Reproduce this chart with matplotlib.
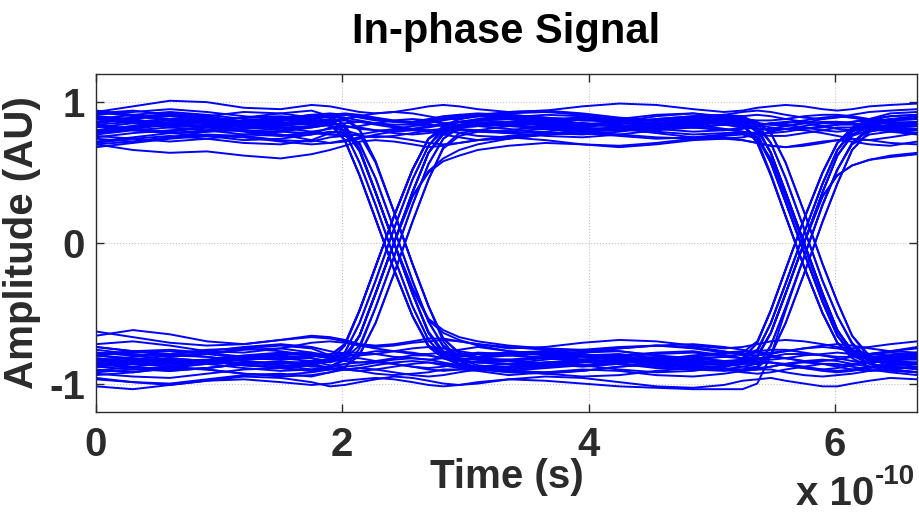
import matplotlib
matplotlib.use("Agg")
import matplotlib.pyplot as plt
import numpy as np

plt.rcParams['font.family'] = ['Liberation Sans', 'DejaVu Sans']
plt.rcParams['font.weight'] = 'bold'
plt.rcParams['axes.unicode_minus'] = False

# sample instants, in units of 1e-10 s (denser around the two crossings)
t_grid = [0.0, 0.3, 0.6, 0.9, 1.2, 1.5, 1.75,
          1.9, 2.02, 2.14, 2.27, 2.42, 2.57, 2.7, 2.82, 2.95, 3.1,
          3.35, 3.65, 3.95, 4.25, 4.55, 4.85, 5.1,
          5.25, 5.37, 5.48, 5.6, 5.75, 5.9, 6.02, 6.14, 6.28, 6.45,
          6.67]

# amplitude traces in hundredths, grouped by symbol pattern
hhh = [
    [86, 89, 92, 90, 86, 85, 88, 90, 91, 90, 88, 86, 85, 86, 88, 90, 91, 89, 86, 84, 86, 90, 92, 89, 87, 85, 84, 85, 87, 89, 90, 89, 87, 85, 86],
    [74, 72, 75, 79, 80, 77, 73, 71, 72, 74, 77, 79, 80, 79, 77, 75, 73, 74, 77, 80, 81, 78, 75, 74, 75, 77, 79, 81, 80, 78, 76, 74, 73, 75, 78],
    [93, 97, 101, 100, 96, 95, 98, 97, 95, 93, 92, 93, 95, 97, 98, 97, 95, 93, 94, 97, 99, 98, 95, 93, 94, 96, 97, 98, 97, 95, 94, 95, 97, 98, 99],
    [70, 66, 64, 65, 62, 60, 63, 66, 69, 72, 73, 72, 70, 68, 69, 71, 73, 75, 73, 70, 69, 71, 74, 75, 73, 71, 69, 68, 70, 72, 73, 72, 70, 69, 72],
    [80, 83, 85, 83, 80, 79, 82, 84, 85, 86, 85, 83, 81, 80, 81, 83, 85, 86, 84, 81, 80, 83, 86, 85, 83, 81, 80, 81, 83, 85, 86, 85, 83, 82, 84],
    [88, 86, 83, 82, 84, 87, 89, 90, 89, 87, 85, 84, 84, 85, 87, 89, 90, 90, 88, 85, 83, 84, 87, 89, 90, 91, 90, 88, 86, 85, 85, 86, 88, 90, 91],
    [78, 81, 84, 86, 85, 82, 79, 77, 76, 77, 79, 81, 83, 84, 83, 81, 79, 78, 79, 82, 85, 86, 84, 81, 79, 78, 78, 79, 81, 83, 84, 84, 82, 80, 78],
    [83, 80, 78, 79, 82, 85, 86, 85, 83, 81, 80, 80, 81, 83, 85, 86, 86, 84, 81, 79, 80, 83, 86, 87, 86, 84, 82, 81, 81, 82, 84, 86, 87, 86, 84],
]
hhl = [
    [84, 81, 79, 82, 86, 88, 85, 83, 82, 83, 85, 87, 88, 87, 85, 83, 83, 85, 87, 88, 86, 83, 82, 84, 86, 81, 64, 36, 0, -36, -62, -77, -83, -85, -86],
    [90, 88, 84, 82, 84, 88, 91, 92, 91, 89, 87, 86, 86, 88, 90, 91, 90, 88, 85, 83, 85, 88, 90, 88, 85, 73, 49, 19, -17, -50, -71, -80, -82, -80, -78],
    [77, 80, 82, 80, 77, 76, 79, 81, 83, 82, 80, 78, 77, 78, 80, 82, 83, 81, 78, 77, 79, 82, 85, 87, 88, 85, 78, 57, 22, -15, -42, -66, -82, -88, -90],
    [94, 91, 88, 90, 93, 92, 89, 87, 88, 90, 92, 93, 92, 90, 88, 88, 90, 92, 93, 91, 88, 87, 89, 91, 90, 85, 71, 46, 10, -27, -52, -71, -83, -86, -88],
    [72, 75, 78, 76, 73, 74, 77, 79, 78, 76, 75, 76, 78, 80, 80, 78, 76, 75, 77, 80, 81, 79, 77, 78, 79, 75, 57, 29, -7, -42, -66, -79, -83, -81, -79],
    [82, 85, 87, 86, 83, 81, 83, 86, 87, 86, 84, 82, 81, 82, 84, 86, 87, 86, 83, 81, 82, 85, 87, 86, 84, 80, 64, 36, 0, -36, -62, -78, -86, -90, -92],
    [68, 71, 74, 76, 75, 72, 70, 71, 73, 75, 76, 75, 73, 71, 70, 71, 73, 76, 78, 79, 77, 75, 74, 76, 77, 74, 60, 33, -2, -38, -63, -77, -82, -83, -81],
    [88, 91, 93, 91, 88, 87, 89, 91, 92, 91, 89, 87, 86, 87, 89, 91, 92, 91, 89, 87, 86, 88, 90, 91, 89, 82, 64, 35, -1, -37, -63, -76, -79, -77, -74],
]
hlh = [
    [88, 85, 82, 84, 87, 89, 87, 87, 82, 66, 36, 0, -36, -64, -78, -83, -85, -86, -83, -80, -79, -82, -85, -86, -85, -81, -64, -36, 0, 36, 62, 77, 83, 86, 85],
    [80, 83, 86, 85, 82, 80, 82, 84, 73, 48, 17, -19, -52, -74, -82, -86, -88, -88, -86, -83, -81, -83, -86, -87, -83, -71, -48, -19, 17, 50, 71, 80, 82, 81, 80],
    [92, 94, 91, 87, 86, 88, 91, 90, 89, 81, 58, 22, -15, -45, -68, -78, -81, -79, -77, -79, -83, -85, -84, -85, -86, -86, -79, -57, -22, 15, 42, 66, 79, 82, 83],
    [75, 78, 80, 82, 79, 76, 77, 82, 80, 65, 36, 0, -36, -63, -77, -80, -81, -78, -77, -80, -84, -86, -85, -84, -83, -80, -64, -36, 0, 33, 48, 55, 59, 62, 64],
    [85, 88, 91, 89, 85, 83, 85, 86, 82, 66, 36, 0, -33, -55, -64, -69, -73, -77, -79, -81, -80, -78, -77, -80, -82, -77, -57, -29, 7, 42, 66, 79, 84, 87, 89],
    [90, 87, 84, 83, 86, 89, 90, 89, 79, 57, 27, -10, -45, -69, -81, -87, -90, -92, -93, -91, -88, -86, -87, -89, -90, -88, -73, -46, -10, 27, 52, 71, 82, 87, 88],
    [70, 72, 75, 77, 76, 73, 72, 75, 76, 70, 46, 10, -27, -56, -73, -80, -82, -84, -86, -85, -83, -81, -82, -84, -85, -81, -64, -36, 0, 36, 62, 76, 80, 80, 78],
    [84, 86, 88, 87, 84, 82, 83, 85, 73, 48, 17, -19, -52, -73, -79, -80, -79, -78, -80, -83, -85, -84, -81, -79, -78, -70, -48, -19, 17, 50, 71, 82, 88, 92, 93],
]
hll = [
    [83, 80, 78, 80, 84, 86, 84, 86, 82, 66, 36, 0, -36, -64, -79, -86, -89, -90, -88, -85, -84, -86, -89, -90, -88, -86, -85, -86, -88, -90, -91, -90, -88, -86, -85],
    [89, 86, 84, 86, 89, 90, 88, 85, 73, 48, 17, -19, -52, -73, -80, -80, -78, -79, -82, -84, -85, -83, -80, -78, -77, -78, -80, -82, -84, -84, -83, -81, -79, -78, -80],
    [71, 74, 76, 74, 71, 70, 73, 78, 80, 77, 57, 22, -15, -45, -70, -84, -89, -91, -92, -91, -88, -86, -87, -90, -92, -93, -92, -90, -88, -86, -86, -88, -90, -92, -94],
    [93, 90, 87, 86, 89, 92, 94, 90, 84, 67, 36, 0, -36, -64, -78, -82, -83, -84, -81, -78, -77, -80, -84, -86, -85, -83, -81, -79, -79, -80, -82, -84, -85, -84, -82],
    [79, 82, 84, 83, 81, 83, 86, 86, 82, 66, 36, 0, -32, -54, -62, -67, -70, -73, -75, -76, -74, -73, -75, -78, -79, -80, -79, -77, -75, -74, -75, -77, -79, -80, -79],
    [86, 89, 90, 88, 85, 84, 86, 88, 79, 57, 27, -10, -45, -69, -80, -84, -85, -86, -88, -87, -84, -82, -83, -86, -88, -89, -88, -86, -84, -83, -84, -86, -88, -89, -88],
    [76, 74, 72, 74, 77, 79, 78, 77, 77, 71, 46, 10, -27, -56, -74, -83, -87, -89, -87, -84, -83, -85, -88, -90, -91, -90, -88, -86, -85, -86, -88, -90, -91, -90, -88],
    [91, 93, 95, 93, 90, 88, 89, 90, 88, 80, 58, 22, -15, -45, -68, -79, -82, -83, -81, -80, -82, -85, -87, -86, -84, -82, -81, -82, -84, -86, -87, -86, -84, -82, -81],
]
lhh = [
    [-82, -85, -87, -85, -82, -80, -82, -85, -82, -66, -36, 0, 36, 64, 78, 84, 87, 89, 87, 84, 83, 85, 88, 89, 87, 85, 84, 83, 85, 88, 90, 89, 87, 85, 86],
    [-88, -86, -83, -84, -87, -89, -87, -84, -73, -48, -17, 19, 52, 74, 80, 81, 80, 79, 81, 84, 86, 84, 82, 80, 81, 83, 85, 86, 85, 83, 81, 80, 81, 83, 84],
    [-76, -79, -81, -79, -76, -75, -78, -82, -84, -79, -57, -22, 15, 45, 67, 76, 79, 80, 83, 85, 84, 81, 79, 80, 82, 84, 85, 84, 82, 80, 79, 80, 82, 84, 86],
    [-90, -92, -89, -86, -85, -87, -90, -88, -82, -66, -36, 0, 33, 50, 58, 62, 66, 69, 71, 70, 68, 70, 73, 74, 73, 71, 69, 68, 69, 71, 73, 74, 73, 71, 70],
    [-84, -81, -79, -81, -84, -86, -84, -83, -78, -57, -27, 10, 45, 69, 82, 88, 91, 93, 94, 92, 89, 87, 88, 91, 93, 94, 93, 91, 89, 88, 89, 91, 93, 94, 95],
    [-80, -82, -84, -83, -80, -78, -79, -81, -82, -73, -46, -10, 27, 56, 74, 82, 84, 83, 81, 80, 82, 85, 86, 84, 82, 81, 81, 83, 85, 86, 86, 85, 83, 82, 81],
    [-93, -95, -96, -93, -90, -89, -91, -89, -83, -66, -36, 0, 36, 64, 77, 80, 80, 78, 76, 75, 77, 80, 82, 81, 79, 77, 76, 76, 78, 80, 82, 82, 81, 79, 77],
    [-86, -84, -82, -84, -87, -88, -86, -84, -73, -48, -17, 19, 52, 74, 83, 88, 90, 91, 89, 87, 88, 91, 92, 90, 88, 87, 87, 88, 90, 91, 91, 90, 88, 87, 88],
]
lhl = [
    [-86, -89, -91, -89, -86, -85, -88, -88, -83, -66, -36, 0, 36, 64, 78, 82, 83, 84, 86, 85, 82, 81, 83, 86, 86, 81, 64, 36, 0, -36, -62, -77, -83, -85, -86],
    [-79, -77, -76, -78, -81, -82, -80, -80, -72, -48, -17, 19, 52, 74, 81, 83, 84, 86, 85, 82, 80, 81, 84, 87, 88, 86, 78, 57, 22, -15, -42, -66, -80, -84, -85],
    [-91, -88, -85, -84, -86, -89, -91, -90, -88, -80, -57, -22, 15, 45, 68, 78, 80, 83, 86, 88, 86, 83, 82, 84, 84, 71, 48, 19, -17, -50, -71, -82, -88, -91, -92],
    [-74, -77, -80, -79, -75, -73, -75, -80, -80, -66, -36, 0, 36, 64, 79, 86, 88, 89, 91, 90, 87, 85, 86, 88, 86, 81, 64, 36, 0, -36, -62, -77, -81, -80, -78],
    [-85, -83, -80, -81, -84, -86, -85, -84, -82, -66, -36, 0, 33, 51, 60, 66, 70, 74, 77, 78, 76, 74, 75, 77, 78, 75, 57, 29, -7, -42, -66, -79, -82, -83, -83],
    [-82, -84, -86, -85, -83, -81, -82, -84, -78, -57, -27, 10, 45, 69, 80, 84, 85, 84, 82, 80, 81, 84, 86, 85, 84, 82, 71, 46, 10, -27, -52, -72, -85, -90, -92],
    [-97, -99, -100, -97, -94, -93, -95, -92, -89, -75, -46, -10, 27, 56, 74, 82, 85, 86, 88, 89, 87, 85, 84, 86, 85, 71, 48, 19, -17, -50, -71, -80, -83, -82, -80],
    [-78, -80, -83, -84, -82, -79, -78, -80, -72, -48, -17, 19, 52, 74, 82, 86, 87, 88, 86, 84, 83, 85, 88, 90, 88, 78, 57, 29, -7, -42, -66, -80, -86, -88, -89],
]
llh = [
    [-83, -86, -88, -86, -83, -82, -84, -87, -88, -87, -85, -83, -82, -83, -85, -87, -89, -88, -85, -83, -84, -87, -89, -88, -85, -81, -64, -36, 0, 36, 62, 77, 82, 84, 85],
    [-78, -80, -79, -76, -75, -77, -80, -82, -81, -79, -77, -77, -78, -80, -82, -83, -82, -80, -78, -79, -82, -84, -83, -81, -82, -71, -48, -19, 17, 50, 71, 81, 86, 88, 88],
    [-94, -92, -89, -90, -93, -95, -94, -92, -90, -89, -90, -92, -94, -95, -94, -92, -90, -90, -93, -95, -94, -91, -89, -90, -91, -89, -80, -57, -22, 15, 42, 66, 79, 82, 84],
    [-87, -84, -82, -84, -87, -88, -86, -84, -82, -82, -84, -86, -88, -89, -88, -86, -84, -83, -86, -88, -86, -83, -82, -84, -84, -81, -64, -36, 0, 33, 48, 55, 59, 61, 63],
    [-72, -70, -73, -77, -78, -75, -71, -70, -71, -73, -75, -77, -79, -79, -78, -76, -74, -77, -79, -78, -75, -73, -74, -77, -80, -76, -57, -29, 7, 42, 66, 80, 87, 90, 91],
    [-88, -90, -91, -89, -86, -85, -87, -89, -90, -91, -90, -88, -86, -85, -86, -88, -90, -91, -89, -87, -86, -88, -90, -91, -90, -88, -73, -46, -10, 27, 52, 71, 80, 82, 81],
    [-102, -104, -101, -98, -97, -99, -101, -100, -98, -97, -96, -97, -99, -101, -102, -101, -99, -97, -98, -100, -102, -103, -104, -104, -104, -100, -80, -48, -10, 27, 52, 70, 77, 79, 80],
    [-80, -83, -85, -84, -81, -79, -80, -82, -84, -85, -84, -82, -80, -80, -82, -84, -85, -84, -82, -81, -83, -86, -87, -85, -83, -77, -57, -29, 7, 42, 66, 79, 85, 88, 90],
]
lll = [
    [-85, -88, -90, -89, -86, -84, -86, -89, -90, -89, -87, -85, -84, -85, -87, -89, -90, -88, -85, -84, -86, -89, -90, -88, -85, -84, -85, -87, -89, -90, -89, -87, -85, -84, -86],
    [-96, -99, -101, -98, -95, -96, -99, -102, -101, -99, -97, -95, -96, -98, -100, -101, -100, -97, -95, -96, -99, -102, -103, -101, -98, -97, -96, -98, -100, -102, -102, -100, -98, -96, -97],
    [-66, -62, -65, -70, -72, -69, -66, -67, -69, -72, -74, -73, -71, -70, -69, -70, -72, -75, -74, -71, -69, -70, -73, -75, -74, -72, -70, -69, -70, -72, -74, -75, -74, -72, -70],
    [-80, -78, -77, -79, -82, -83, -81, -79, -78, -78, -79, -81, -82, -83, -82, -81, -79, -80, -82, -83, -81, -79, -78, -80, -82, -83, -83, -82, -80, -79, -78, -79, -81, -82, -81],
    [-92, -90, -88, -90, -93, -94, -92, -90, -90, -91, -93, -94, -93, -92, -90, -90, -91, -94, -92, -90, -91, -94, -95, -93, -91, -90, -90, -92, -94, -95, -94, -93, -91, -90, -92],
    [-74, -77, -79, -77, -74, -72, -74, -77, -79, -80, -79, -77, -75, -74, -75, -77, -79, -80, -78, -76, -77, -80, -82, -81, -79, -77, -76, -76, -78, -80, -81, -81, -79, -77, -75],
    [-88, -85, -84, -86, -89, -91, -90, -88, -86, -85, -85, -86, -88, -90, -91, -90, -88, -86, -85, -87, -90, -92, -91, -88, -86, -85, -85, -87, -89, -91, -92, -91, -89, -87, -86],
    [-63, -67, -71, -73, -72, -69, -67, -68, -70, -72, -73, -72, -70, -68, -68, -70, -72, -74, -76, -77, -75, -73, -72, -74, -76, -78, -78, -77, -75, -73, -72, -73, -75, -77, -78],
]

x_ticks = [0, 2, 4, 6]
y_ticks = [-1, 0, 1]

text_col = '#2b2b2b'

fig = plt.figure(figsize=(9.2, 5.14), dpi=100)
ax = fig.add_axes([96 / 920, 1 - 411.7 / 514, (917 - 96) / 920, (411.7 - 74) / 514])

for group in (hhh, hhl, hlh, hll, lhh, lhl, llh, lll):
    for trace in group:
        ax.plot(t_grid, np.array(trace) / 100.0, color='#0000ff', lw=1.4)

ax.set_xlim(0, 6.667)
ax.set_ylim(-1.2, 1.2)
ax.set_xticks(x_ticks)
ax.set_yticks(y_ticks)
ax.grid(True, color='#c4c4c4', linestyle=':', linewidth=0.8)
ax.set_axisbelow(True)
ax.tick_params(direction='in', length=6, width=1, color=text_col,
               top=True, right=True, labelsize=29, labelcolor=text_col)
ax.tick_params(axis='x', pad=10)
ax.tick_params(axis='y', pad=8)
for s in ax.spines.values():
    s.set_color(text_col)
    s.set_linewidth(1)

ax.set_title('In-phase Signal', fontsize=30, fontweight='bold', color='black', pad=22)
ax.set_xlabel('Time (s)', fontsize=29, fontweight='bold', color=text_col, labelpad=-4)
ax.set_ylabel('Amplitude (AU)', fontsize=29, fontweight='bold', color=text_col, labelpad=6)

# axis multiplier, written as in the source figure
fig.text(874 / 920, 1 - 505 / 514, 'x 10', ha='right', va='baseline',
         fontsize=29, fontweight='bold', color=text_col)
fig.text(875 / 920, 1 - 484 / 514, '-10', ha='left', va='baseline',
         fontsize=20, fontweight='bold', color=text_col)

fig.savefig('out.png', dpi=100)
